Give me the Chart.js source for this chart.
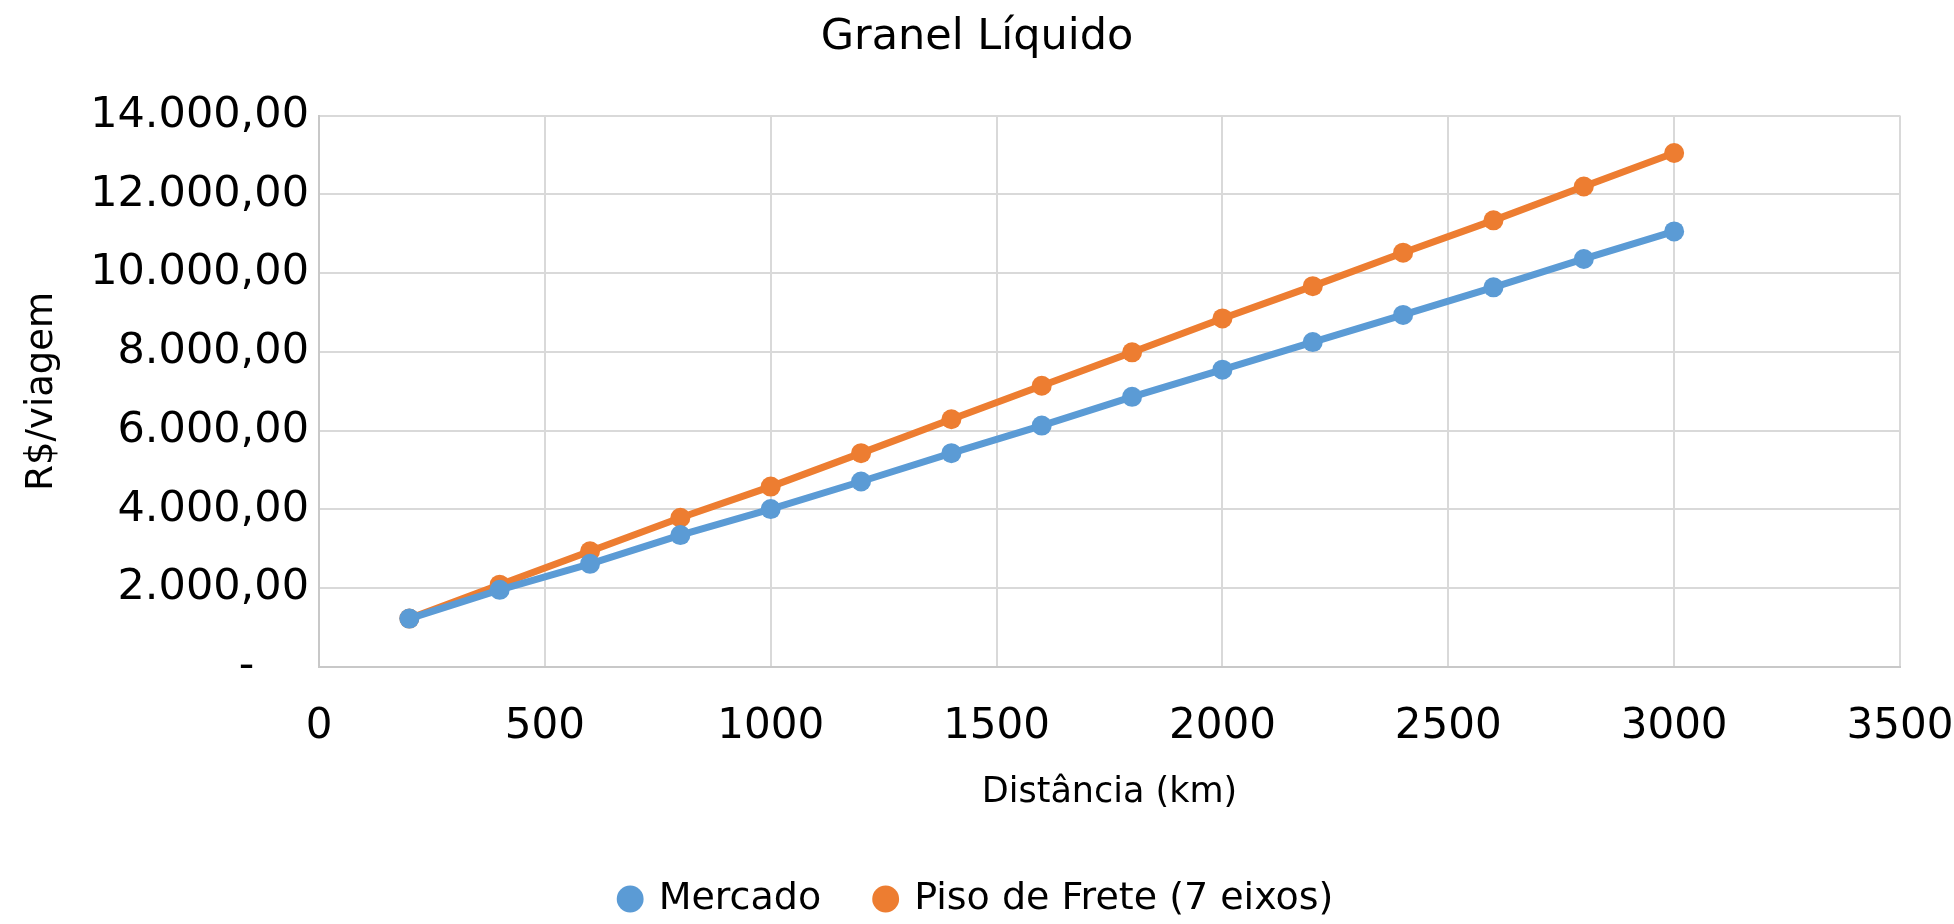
<!DOCTYPE html>
<html>
<head>
<meta charset="utf-8">
<script src="https://cdn.jsdelivr.net/npm/chart.js@4/dist/chart.umd.min.js"></script>
<style>
  html, body { margin: 0; padding: 0; background: #fff; }
  #wrap { width: 1954px; height: 924px; }
</style>
</head>
<body>
<div id="wrap"><canvas id="granelChart" width="1954" height="924"></canvas></div>
<script>
// distancias (km) e valores
var distancias = [200, 400, 600, 800, 1000, 1200, 1400, 1600, 1800, 2000, 2200, 2400, 2600, 2800, 3000];
var mercado = [1230, 1960, 2620, 3350, 4010, 4710, 5430, 6130, 6860, 7550, 8250, 8940, 9640, 10360, 11060];
var pisoFrete = [1230, 2090, 2940, 3790, 4580, 5430, 6290, 7140, 7990, 8850, 9670, 10520, 11340, 12200, 13050];

var nomes = ["Mercado", "Piso de Frete (7 eixos)"];
var cores = ["#5B9BD5", "#ED7D31"];

var FONTE = "'DejaVu Sans', 'Open Sans', sans-serif";

function pontos(valores){
	var p = [];
	for (var i = 0; i < distancias.length; i++){
		p.push({x: distancias[i], y: valores[i]});
	}
	return p;
}

// formato brasileiro 14.000,00 ; zero vira "-"
function formataBR(v){
	if (v === 0) return "-    ";
	var partes = v.toFixed(2).split(".");
	var inteiro = partes[0].replace(/\B(?=(\d{3})+(?!\d))/g, ".");
	return inteiro + "," + partes[1];
}

function serie(nome, valores, cor){
	return {
		label: nome,
		data: pontos(valores),
		showLine: true,
		borderColor: cor,
		backgroundColor: cor,
		borderWidth: 7,
		pointRadius: 10,
		pointHoverRadius: 10,
		pointBorderWidth: 0,
		tension: 0
	};
}

var ctx = document.getElementById("granelChart");
var grafico = new Chart(ctx, {
	type: "scatter",
	data: {
		datasets: [serie(nomes[0], mercado, cores[0]), serie(nomes[1], pisoFrete, cores[1])]
	},
	options: {
		responsive: false,
		animation: false,
		layout: { padding: { left: 0, right: 0, top: 0, bottom: -4 } },
		plugins: {
			title: {
				display: true,
				text: "Granel Líquido",
				color: "#000",
				font: { family: FONTE, size: 43, weight: "normal" },
				padding: { top: 12, bottom: 52 }
			},
			legend: {
				position: "bottom",
				labels: {
					color: "#000",
					font: { family: FONTE, size: 38 },
					usePointStyle: true,
					pointStyle: "circle",
					boxWidth: 19,
					boxHeight: 19,
					padding: 55
				}
			},
			tooltip: { enabled: false }
		},
		scales: {
			x: {
				type: "linear",
				min: 0,
				max: 3500,
				afterFit: function(scale){
					scale.height = 158;
					scale.paddingRight = 54;
				},
				ticks: {
					stepSize: 500,
					color: "#000",
					font: { family: FONTE, size: 42 },
					padding: 35,
					callback: function(v){ return String(v); }
				},
				grid: { color: "#d9d9d9", lineWidth: 2, drawTicks: false },
				border: { color: "#c8c8c8", width: 2 },
				title: {
					display: true,
					text: "Distância (km)",
					color: "#000",
					font: { family: FONTE, size: 35 },
					padding: { top: 0, bottom: 11 }
				}
			},
			y: {
				min: 0,
				max: 14000,
				afterFit: function(scale){ scale.width = 319; },
				ticks: {
					stepSize: 2000,
					color: "#000",
					font: { family: FONTE, size: 43 },
					padding: 10,
					callback: function(v){ return formataBR(v); }
				},
				grid: { color: "#d9d9d9", lineWidth: 2, drawTicks: false },
				border: { color: "#c8c8c8", width: 2 },
				title: {
					display: true,
					text: "R$/viagem",
					color: "#000",
					font: { family: FONTE, size: 37 },
					padding: { top: 20, bottom: 0 }
				}
			}
		}
	}
});
</script>
</body>
</html>
